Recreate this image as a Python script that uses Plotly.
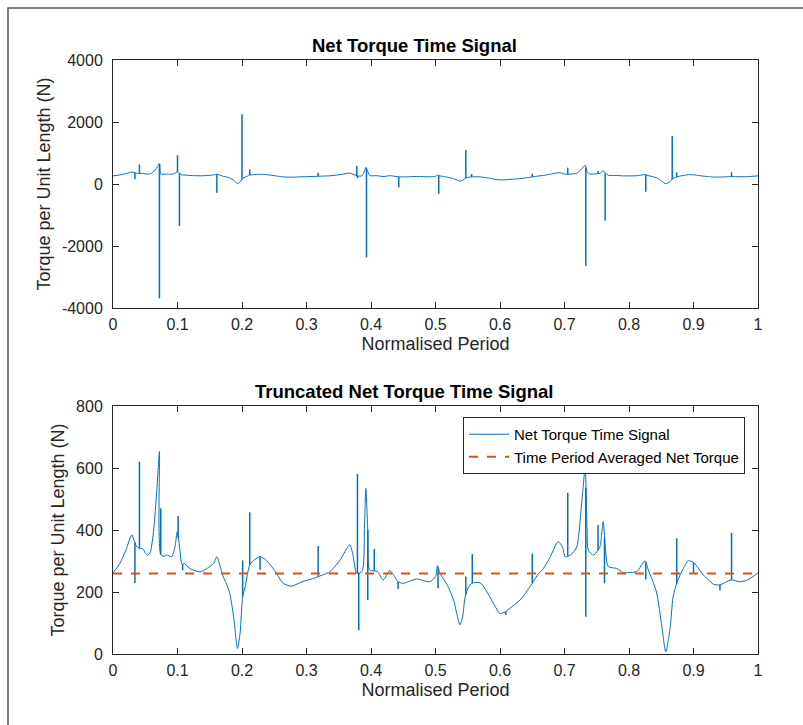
import plotly.graph_objects as go

# Smooth part of the net torque signal over one normalised period
base_t = [0.000, 0.010, 0.020, 0.029, 0.033, 0.036, 0.041, 0.046, 0.050, 0.054,
          0.058, 0.063, 0.068, 0.072, 0.074, 0.079, 0.083, 0.091, 0.096, 0.0997,
          0.104, 0.107, 0.110, 0.120, 0.135, 0.145, 0.156, 0.161, 0.165, 0.171,
          0.176, 0.181, 0.187, 0.193, 0.197, 0.201, 0.205, 0.212, 0.220, 0.228,
          0.236, 0.246, 0.255, 0.264, 0.277, 0.293, 0.311, 0.325, 0.336, 0.352,
          0.367, 0.372, 0.378, 0.386, 0.390, 0.392, 0.395, 0.398, 0.405, 0.410,
          0.419, 0.429, 0.435, 0.442, 0.450, 0.460, 0.471, 0.491, 0.500, 0.503,
          0.507, 0.512, 0.520, 0.528, 0.538, 0.542, 0.546, 0.551, 0.556, 0.569,
          0.577, 0.584, 0.592, 0.600, 0.608, 0.620, 0.631, 0.640, 0.649, 0.660,
          0.667, 0.678, 0.690, 0.697, 0.701, 0.710, 0.719, 0.725, 0.729, 0.732,
          0.735, 0.737, 0.745, 0.752, 0.755, 0.760, 0.763, 0.768, 0.781, 0.791,
          0.800, 0.812, 0.825, 0.830, 0.836, 0.843, 0.851, 0.857, 0.864, 0.868,
          0.872, 0.876, 0.884, 0.892, 0.900, 0.908, 0.915, 0.923, 0.931, 0.941,
          0.950, 0.959, 0.972, 0.985, 1.000]
base_torque = [262, 290, 335, 384, 365, 350, 340, 340, 326, 318,
               330, 400, 530, 653, 320, 315, 319, 314, 345, 395,
               330, 289, 292, 275, 265, 275, 292, 314, 290, 249,
               225, 196, 120, 18, 67, 185, 217, 287, 305, 314,
               305, 282, 255, 228, 219, 233, 244, 255, 265, 303,
               352, 320, 260, 266, 420, 534, 400, 271, 268, 266,
               239, 269, 255, 233, 228, 235, 242, 233, 250, 285,
               260, 244, 215, 174, 94, 120, 185, 215, 228, 230,
               210, 185, 155, 131, 136, 155, 174, 198, 225, 260,
               275, 314, 362, 345, 314, 320, 346, 450, 540, 604,
               400, 335, 319, 335, 346, 427, 350, 282, 276, 262,
               263, 266, 301, 270, 240, 196, 88, 7, 88, 180,
               215, 239, 275, 301, 295, 275, 255, 240, 225, 223,
               232, 239, 233, 240, 262]

# Impulsive spikes in the raw signal
full_spike_t = [0.034, 0.041, 0.072, 0.100, 0.103, 0.161, 0.200, 0.212, 0.318,
                0.378, 0.379, 0.393, 0.443, 0.505, 0.547, 0.556, 0.650, 0.705,
                0.733, 0.752, 0.763, 0.826, 0.867, 0.874, 0.959]
full_spike_torque = [150, 635, -3690, 925, -1355, -280, 2250, 473, 365,
                     590, 180, -2365, -110, -320, 1097, 320, 330, 527,
                     -2645, 416, -1183, -247, 1548, 373, 380]

# Spikes remaining in the truncated signal
trunc_spike_t = [0.034, 0.041, 0.074, 0.101, 0.108, 0.201, 0.212, 0.228, 0.318,
                 0.379, 0.381, 0.395, 0.405, 0.442, 0.504, 0.547, 0.557, 0.609,
                 0.650, 0.705, 0.733, 0.752, 0.762, 0.826, 0.874, 0.900, 0.941,
                 0.959]
trunc_spike_torque = [229, 620, 470, 445, 270, 302, 457, 272, 348,
                      581, 77, 174, 339, 210, 212, 250, 322, 127,
                      323, 520, 120, 416, 228, 240, 373, 262, 205,
                      391]

avg_torque = 260

x_ticks = [0, 0.1, 0.2, 0.3, 0.4, 0.5, 0.6, 0.7, 0.8, 0.9, 1]
x_tick_labels = ["0", "0.1", "0.2", "0.3", "0.4", "0.5", "0.6", "0.7", "0.8", "0.9", "1"]
y_ticks_full = [-4000, -2000, 0, 2000, 4000]
y_tick_labels_full = ["-4000", "-2000", "0", "2000", "4000"]
y_ticks_trunc = [0, 200, 400, 600, 800]

BLUE = "#0072BD"
ORANGE = "#D95319"
AXIS = "#262626"
FONT = "Liberation Sans, Arial, sans-serif"


def spike_segments(spike_t, spike_val):
    """Vertical excursions from the smooth curve, separated by gaps."""
    xs, ys = [], []
    for ts, vs in zip(spike_t, spike_val):
        # anchor each spike on the curve between its neighbouring knots
        k = next(i for i, t in enumerate(base_t) if t >= ts)
        t0, t1 = base_t[max(k - 1, 0)], base_t[k]
        v0, v1 = base_torque[max(k - 1, 0)], base_torque[k]
        a = v0 if t1 == t0 else v0 + (v1 - v0) * (ts - t0) / (t1 - t0)
        xs += [ts, ts, None]
        ys += [a, vs, None]
    return xs, ys


W, H = 803, 725
x_dom = [113 / W, 758 / W]
top_dom = [1 - 308 / H, 1 - 60 / H]
bot_dom = [1 - 654 / H, 1 - 406 / H]

fig = go.Figure()

# upper panel: complete signal
fig.add_trace(go.Scatter(x=base_t, y=base_torque, mode="lines",
                         line=dict(color=BLUE, width=1, shape="spline", smoothing=0.7),
                         xaxis="x", yaxis="y", showlegend=False))
sx, sy = spike_segments(full_spike_t, full_spike_torque)
fig.add_trace(go.Scatter(x=sx, y=sy, mode="lines", line=dict(color=BLUE, width=1.5),
                         xaxis="x", yaxis="y", showlegend=False))

# lower panel: truncated signal and its average
fig.add_trace(go.Scatter(x=base_t, y=base_torque, mode="lines",
                         line=dict(color=BLUE, width=1, shape="spline", smoothing=0.7),
                         name="Net Torque Time Signal", legendgroup="sig",
                         xaxis="x2", yaxis="y2"))
sx, sy = spike_segments(trunc_spike_t, trunc_spike_torque)
fig.add_trace(go.Scatter(x=sx, y=sy, mode="lines", line=dict(color=BLUE, width=1.5),
                         legendgroup="sig", showlegend=False,
                         xaxis="x2", yaxis="y2"))
fig.add_trace(go.Scatter(x=[0, 1], y=[avg_torque, avg_torque], mode="lines",
                         line=dict(color=ORANGE, width=2, dash="dash"),
                         name="Time Period Averaged Net Torque",
                         xaxis="x2", yaxis="y2"))

axis_common = dict(showline=True, linecolor=AXIS, linewidth=1, mirror="ticks",
                   ticks="inside", ticklen=6, tickcolor=AXIS, showgrid=False,
                   zeroline=False, automargin=False,
                   tickfont=dict(family=FONT, size=16, color=AXIS))
title_font = dict(family=FONT, size=18, color=AXIS)

xaxis_style = dict(range=[0, 1], tickvals=x_ticks, ticktext=x_tick_labels,
                   ticklabelstandoff=2,
                   title=dict(text="Normalised Period", font=title_font, standoff=5),
                   **axis_common)

fig.update_layout(
    width=W, height=H,
    margin=dict(l=0, r=0, t=0, b=0, autoexpand=False),
    paper_bgcolor="white", plot_bgcolor="white",
    font=dict(family=FONT),
    xaxis=dict(domain=x_dom, anchor="y", **xaxis_style),
    yaxis=dict(domain=top_dom, anchor="x", range=[-4000, 4000],
               tickvals=y_ticks_full, ticktext=y_tick_labels_full,
               ticklabelstandoff=6,
               title=dict(text="Torque per Unit Length (N)", font=title_font, standoff=6),
               **axis_common),
    xaxis2=dict(domain=x_dom, anchor="y2", **xaxis_style),
    yaxis2=dict(domain=bot_dom, anchor="x2", range=[0, 800],
                tickvals=y_ticks_trunc, ticklabelstandoff=6,
                title=dict(text="Torque per Unit Length (N)", font=title_font, standoff=6),
                **axis_common),
    legend=dict(x=745 / W, xanchor="right", y=1 - 417 / H, yanchor="top",
                bgcolor="white", bordercolor=AXIS, borderwidth=1,
                font=dict(family=FONT, size=15, color="black"),
                tracegroupgap=0, itemwidth=40),
    annotations=[
        dict(text="<b>Net Torque Time Signal</b>", x=415 / W,
             y=1 - 45 / H, xref="paper", yref="paper", showarrow=False,
             xanchor="center", yanchor="middle",
             font=dict(family=FONT, size=18.5, color="black")),
        dict(text="<b>Truncated Net Torque Time Signal</b>", x=404 / W,
             y=1 - 391 / H, xref="paper", yref="paper", showarrow=False,
             xanchor="center", yanchor="middle",
             font=dict(family=FONT, size=18.5, color="black")),
    ],
    shapes=[
        dict(type="rect", xref="paper", yref="paper",
             x0=8 / W, x1=1.05, y0=-0.05, y1=1 - 8 / H,
             line=dict(color="#555555", width=1.5), fillcolor="rgba(0,0,0,0)"),
    ],
)

fig.write_html("out.html")
